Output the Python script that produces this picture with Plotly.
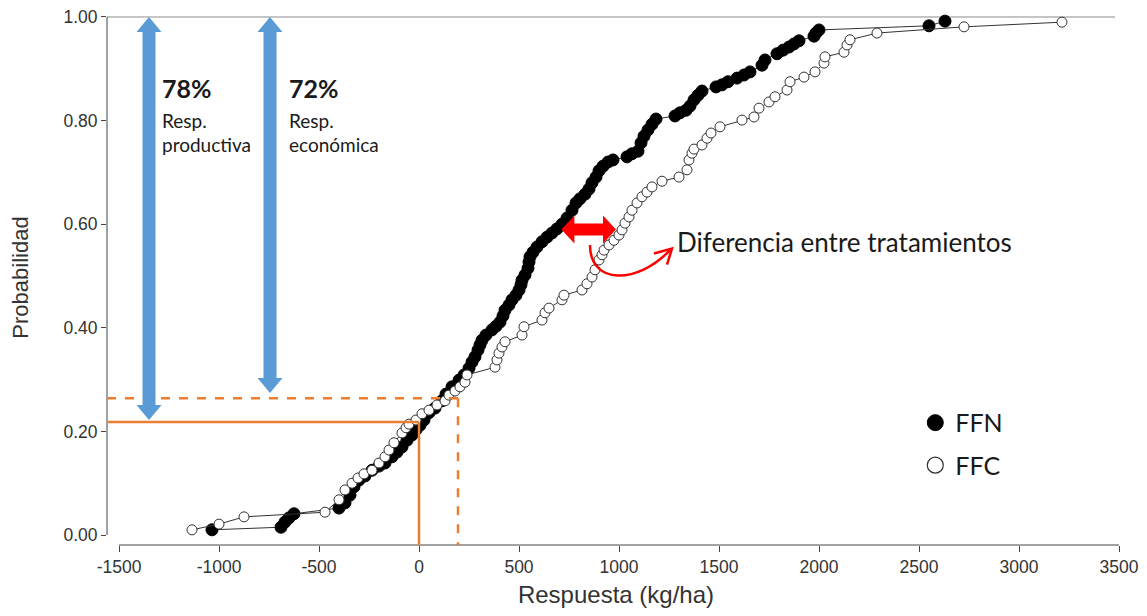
import plotly.graph_objects as go

# ---------------- data ----------------
ffn_x = [-1035, -690, -670, -650, -625, -400, -370, -345, -325, -300, -270, -235, -200, -170,
         -135, -110, -85, -60, -35, -15, 5, 25, 50, 80, 115, 135, 165, 200, 225, 250, 265, 280,
         295, 305, 315, 335, 365, 385, 405, 420, 430, 450, 465, 485, 500, 510, 515, 530, 545,
         550, 555, 570, 590, 615, 640, 665, 690, 715, 740, 765, 785, 805, 830, 850, 865, 885,
         900, 920, 945, 970, 1040, 1065, 1095, 1110, 1125, 1145, 1165, 1185, 1280, 1305, 1335,
         1355, 1375, 1395, 1415, 1485, 1515, 1545, 1590, 1625, 1655, 1715, 1730, 1790, 1820,
         1850, 1875, 1900, 1975, 1985, 2000, 2550, 2630]
ffn_p = [0.010, 0.015, 0.025, 0.033, 0.041, 0.052, 0.062, 0.077, 0.093, 0.106, 0.114, 0.125,
         0.133, 0.139, 0.151, 0.160, 0.170, 0.183, 0.193, 0.203, 0.212, 0.222, 0.236, 0.245,
         0.259, 0.272, 0.286, 0.299, 0.309, 0.322, 0.334, 0.344, 0.357, 0.367, 0.376, 0.386,
         0.396, 0.403, 0.411, 0.423, 0.434, 0.444, 0.454, 0.463, 0.473, 0.483, 0.492, 0.502,
         0.515, 0.527, 0.537, 0.546, 0.556, 0.566, 0.575, 0.583, 0.591, 0.600, 0.612, 0.627,
         0.641, 0.649, 0.658, 0.668, 0.680, 0.691, 0.703, 0.712, 0.720, 0.724, 0.730, 0.736,
         0.741, 0.757, 0.770, 0.782, 0.793, 0.803, 0.809, 0.815, 0.820, 0.828, 0.840, 0.849,
         0.857, 0.865, 0.869, 0.875, 0.882, 0.888, 0.894, 0.907, 0.917, 0.929, 0.936, 0.942,
         0.948, 0.954, 0.963, 0.969, 0.975, 0.983, 0.992]

ffc_x = [-1135, -1000, -875, -470, -400, -370, -335, -305, -275, -235, -200, -170, -150, -125,
         -85, -65, -50, -15, 15, 50, 90, 130, 150, 180, 205, 230, 240, 380, 390, 400, 415, 430,
         515, 525, 615, 630, 650, 715, 725, 815, 840, 865, 880, 900, 915, 925, 950, 975, 1000,
         1015, 1030, 1050, 1065, 1090, 1115, 1140, 1165, 1215, 1300, 1340, 1350, 1365, 1375,
         1415, 1440, 1460, 1505, 1615, 1675, 1700, 1750, 1780, 1840, 1855, 1925, 1980, 2025,
         2030, 2125, 2140, 2155, 2290, 2725, 3215]
ffc_p = [0.010, 0.021, 0.035, 0.044, 0.068, 0.087, 0.100, 0.110, 0.118, 0.125, 0.139, 0.151,
         0.164, 0.178, 0.197, 0.207, 0.214, 0.222, 0.234, 0.241, 0.251, 0.259, 0.270, 0.278,
         0.286, 0.295, 0.309, 0.324, 0.338, 0.351, 0.363, 0.373, 0.386, 0.402, 0.415, 0.429,
         0.438, 0.454, 0.463, 0.473, 0.485, 0.498, 0.512, 0.531, 0.541, 0.550, 0.560, 0.569,
         0.579, 0.589, 0.602, 0.614, 0.627, 0.641, 0.653, 0.662, 0.672, 0.683, 0.691, 0.705,
         0.724, 0.737, 0.745, 0.753, 0.766, 0.776, 0.788, 0.801, 0.807, 0.824, 0.836, 0.846,
         0.859, 0.875, 0.884, 0.894, 0.911, 0.923, 0.932, 0.946, 0.956, 0.969, 0.981, 0.990]

x_ticks = [-1500, -1000, -500, 0, 500, 1000, 1500, 2000, 2500, 3000, 3500]
y_ticks = [0.0, 0.2, 0.4, 0.6, 0.8, 1.0]

resp_prod_p = 0.218      # probability where productive response is zero
resp_econ_x = 195        # break-even response (kg/ha)
resp_econ_p = 0.264

# ---------------- geometry helpers ----------------
# the page body has an 8px margin, so the figure is 8px smaller than the window
W, H = 1139, 608
ML, MR, MT, MB = 99, 22, 2, 71
XMIN, XMAX = -1560, 3530
YMIN, YMAX = -0.0193, 1.0135
PW, PH = W - ML - MR, H - MT - MB
PXX = PW / (XMAX - XMIN)
PXY = PH / (YMAX - YMIN)


def dx(px):
    return px / PXX


def dy(px):
    return px / PXY


def xp(v):
    return (v - XMIN) / (XMAX - XMIN)


def yp(p):
    return (p - YMIN) / (YMAX - YMIN)


def path(pts, close=True):
    s = "M " + " L ".join(f"{x:.4f},{y:.5f}" for x, y in pts)
    return s + (" Z" if close else "")


def v_double_arrow(cx, y0, y1, shaft=6.5, head=12.5, hl=15):
    s, h, L = dx(shaft), dx(head), dy(hl)
    pts = [(cx, y1), (cx + h, y1 - L), (cx + s, y1 - L), (cx + s, y0 + L), (cx + h, y0 + L),
           (cx, y0), (cx - h, y0 + L), (cx - s, y0 + L), (cx - s, y1 - L), (cx - h, y1 - L)]
    return path(pts)


def h_double_arrow(cy, x0, x1, shaft=6, head=14, hl=13):
    s, h, L = dy(shaft), dy(head), dx(hl)
    pts = [(x0, cy), (x0 + L, cy + h), (x0 + L, cy + s), (x1 - L, cy + s), (x1 - L, cy + h),
           (x1, cy), (x1 - L, cy - h), (x1 - L, cy - s), (x0 + L, cy - s), (x0 + L, cy - h)]
    return path(pts)


BLUE = "#5B9BD5"
ORANGE = "#ED7D31"
RED = "#FF0000"
TXT = "Lato, 'Noto Sans', sans-serif"
AX = "'Liberation Sans', Arial, sans-serif"

fig = go.Figure()

fig.add_trace(go.Scatter(x=ffn_x, y=ffn_p, mode="lines+markers", showlegend=False,
                         line=dict(color="#333333", width=1),
                         marker=dict(size=12, color="black", line=dict(color="black", width=1))))
fig.add_trace(go.Scatter(x=ffc_x, y=ffc_p, mode="lines+markers", showlegend=False,
                         line=dict(color="#333333", width=1),
                         marker=dict(size=10, color="white", line=dict(color="#333333", width=1))))
# legend entries
fig.add_trace(go.Scatter(x=[None], y=[None], mode="markers", name="FFN", legendgroup="a",
                         marker=dict(size=16, color="black", line=dict(color="black", width=1))))
fig.add_trace(go.Scatter(x=[None], y=[None], mode="markers", name="FFC", legendgroup="b",
                         marker=dict(size=16, color="white", line=dict(color="#333333", width=1.2))))

shapes = []
# top reference line at probability 1
shapes.append(dict(type="line", xref="paper", yref="paper", x0=0, x1=xp(3480), y0=yp(1.0), y1=yp(1.0),
                   line=dict(color="#8c8c8c", width=1), layer="below"))
# axis lines (detached style)
shapes.append(dict(type="line", xref="paper", yref="paper", x0=0, x1=0, y0=yp(0), y1=yp(1.0),
                   line=dict(color="#444444", width=1)))
shapes.append(dict(type="line", xref="paper", yref="paper", x0=xp(-1500), x1=xp(3500), y0=0, y1=0,
                   line=dict(color="#444444", width=1)))
# orange guide lines
shapes.append(dict(type="line", xref="x", yref="y", x0=XMIN, x1=0, y0=resp_prod_p, y1=resp_prod_p,
                   line=dict(color=ORANGE, width=2.5)))
shapes.append(dict(type="line", xref="x", yref="y", x0=0, x1=0, y0=resp_prod_p, y1=YMIN,
                   line=dict(color=ORANGE, width=2.5)))
shapes.append(dict(type="line", xref="x", yref="y", x0=XMIN, x1=resp_econ_x, y0=resp_econ_p, y1=resp_econ_p,
                   line=dict(color=ORANGE, width=2.5, dash="dash")))
shapes.append(dict(type="line", xref="x", yref="y", x0=resp_econ_x, x1=resp_econ_x, y0=resp_econ_p, y1=YMIN,
                   line=dict(color=ORANGE, width=2.5, dash="dash")))
# blue double arrows
shapes.append(dict(type="path", xref="x", yref="y", path=v_double_arrow(-1350, 0.222, 1.0),
                   fillcolor=BLUE, line=dict(width=0)))
shapes.append(dict(type="path", xref="x", yref="y", path=v_double_arrow(-745, 0.274, 1.0),
                   fillcolor=BLUE, line=dict(width=0)))
# red double arrow
shapes.append(dict(type="path", xref="x", yref="y", path=h_double_arrow(0.590, 712, 985),
                   fillcolor=RED, line=dict(width=0)))
# red curved arrow
x0c, y0c = 855, 0.560
c1 = (855, 0.560 - dy(40))
c2 = (1090, 0.560 - dy(40))
x1c, y1c = 1255, 0.550
curve = f"M {x0c},{y0c} C {c1[0]},{c1[1]:.5f} {c2[0]},{c2[1]:.5f} {x1c},{y1c}"
shapes.append(dict(type="path", xref="x", yref="y", path=curve, line=dict(color=RED, width=2.5)))
tip = (1265, 0.553)
head = path([(tip[0] - dx(18), tip[1] - dy(5)), tip, (tip[0] - dx(5), tip[1] - dy(16))], close=False)
shapes.append(dict(type="path", xref="x", yref="y", path=head, line=dict(color=RED, width=2.5)))

annotations = []


def txt(x, y, t, size, bold=False):
    annotations.append(dict(x=x, y=y, xref="x", yref="y", text=f"<b>{t}</b>" if bold else t,
                            showarrow=False, xanchor="left", yanchor="middle",
                            font=dict(family=TXT, size=size, color="#1a1a1a")))


txt(-1295, 0.862, "78%", 25, bold=True)
txt(-1295, 0.800, "Resp.", 19)
txt(-1295, 0.753, "productiva", 19)
txt(-660, 0.862, "72%", 25, bold=True)
txt(-660, 0.800, "Resp.", 19)
txt(-660, 0.753, "económica", 19)
txt(1282, 0.565, "Diferencia entre tratamientos", 26)

fig.update_layout(
    width=W, height=H,
    margin=dict(l=ML, r=MR, t=MT, b=MB, autoexpand=False),
    paper_bgcolor="white", plot_bgcolor="white",
    shapes=shapes, annotations=annotations,
    showlegend=True,
    legend=dict(x=0.794, y=0.189, xanchor="left", yanchor="middle", traceorder="grouped",
                tracegroupgap=7, bgcolor="rgba(0,0,0,0)",
                font=dict(family=TXT, size=25, color="#1a1a1a")),
    xaxis=dict(range=[XMIN, XMAX], tickvals=x_ticks, ticktext=[str(v) for v in x_ticks],
               showgrid=False, zeroline=False, showline=False, ticks="outside", ticklen=6,
               tickcolor="#444444", tickfont=dict(family=AX, size=17.5, color="#333333"),
               ticklabeloverflow="allow", automargin=False,
               title=dict(text="Respuesta (kg/ha)", font=dict(family=AX, size=24, color="#333333"),
                          standoff=10)),
    yaxis=dict(range=[YMIN, YMAX], tickvals=y_ticks, ticktext=[f"{v:.2f}" for v in y_ticks],
               showgrid=False, zeroline=False, showline=False, ticks="outside", ticklen=5,
               tickcolor="#444444", tickfont=dict(family=AX, size=17.5, color="#333333"),
               ticklabeloverflow="allow", automargin=False,
               title=dict(text="Probabilidad", font=dict(family=AX, size=22, color="#333333"),
                          standoff=29)),
)

fig.write_html("out.html")
